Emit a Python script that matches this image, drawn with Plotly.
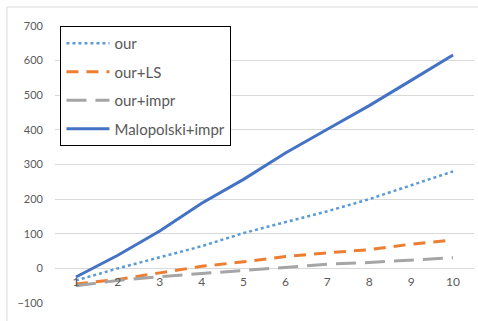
import plotly.graph_objects as go

# Iteration index on the category axis
steps = [1, 2, 3, 4, 5, 6, 7, 8, 9, 10]

# Series values
our = [-35, 0, 32, 64, 102, 134, 165, 200, 240, 280]
our_ls = [-45, -32, -13, 6, 19, 34, 45, 54, 70, 82]
our_impr = [-50, -35, -24, -15, -5, 5, 12, 17, 24, 31]
malopolski_impr = [-25, 38, 108, 188, 257, 333, 402, 470, 543, 616]

y_ticks = [-100, 0, 100, 200, 300, 400, 500, 600, 700]

series = [
    ("our", our, "#5B9BD5", "dot", 2.5),
    ("our+LS", our_ls, "#ED7D31", "12px,8px", 3),
    ("our+impr", our_impr, "#A5A5A5", "20px,9px", 3),
    ("Malopolski+impr", malopolski_impr, "#4472C4", "solid", 3),
]

fig = go.Figure()
for name, vals, color, dash, width in series:
    fig.add_trace(go.Scatter(
        x=steps, y=vals, name=name, mode="lines", legendgroup=name,
        line=dict(color=color, dash=dash, width=width),
    ))

text_color = "#595959"
font_family = "Lato, 'Open Sans', sans-serif"

fig.update_layout(
    width=478, height=321,
    margin=dict(l=55, r=4, t=26, b=18),
    paper_bgcolor="white", plot_bgcolor="white",
    font=dict(family=font_family, color=text_color, size=11),
    showlegend=True,
    legend=dict(
        x=0.013, y=1.0, xanchor="left", yanchor="top",
        bgcolor="white", bordercolor="black", borderwidth=1,
        font=dict(size=15, color=text_color, family=font_family),
        tracegroupgap=6, itemwidth=43,
    ),
    xaxis=dict(
        range=[0.5, 10.5], tickmode="array", tickvals=steps,
        showgrid=False, zeroline=False, showline=False, ticks="",
        anchor="free", position=0.125, ticklabelstandoff=5,
        tickfont=dict(size=12, color=text_color),
    ),
    yaxis=dict(
        range=[-100, 700], tickmode="array", tickvals=y_ticks,
        showgrid=True, gridcolor="#D9D9D9", gridwidth=1,
        zeroline=False, showline=False, ticks="",
        ticklabelstandoff=11,
        tickfont=dict(size=11, color=text_color),
    ),
    shapes=[
        dict(type="rect", xref="paper", yref="paper",
             x0=-0.1146, x1=1.2, y0=-0.3, y1=1.0686,
             line=dict(color="#D9D9D9", width=1), layer="below"),
    ],
)

fig.write_html("out.html")
